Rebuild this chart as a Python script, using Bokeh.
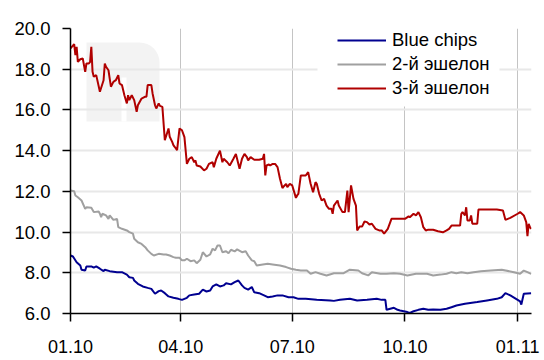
from bokeh.plotting import figure
from bokeh.models import Range1d, FixedTicker, NumeralTickFormatter, Legend, LegendItem, BoxAnnotation
from bokeh.embed import file_html
from bokeh.resources import INLINE

# x positions are calendar days counted from 01.01.2010
tick_days = [0, 90, 181, 273, 365]
tick_labels = ["01.10", "04.10", "07.10", "10.10", "01.11"]
y_ticks = [6, 8, 10, 12, 14, 16, 18, 20]

blue_days = [0, 2, 5, 8, 9, 12, 13, 17, 19, 21, 24, 27, 28, 32, 38, 42, 46, 48, 51, 52, 55, 59, 63, 66, 69, 72, 74,
             77, 80, 84, 88, 91, 95, 97, 101, 105, 108, 111, 114, 116, 119, 122, 125, 127, 131, 134, 137, 140, 142,
             145, 148, 150, 154, 158, 161, 165, 169, 173, 178, 182, 186, 192, 201, 212, 215, 220, 228, 234, 242, 250,
             254, 257, 258, 261, 264, 267, 269, 272, 275, 277, 280, 284, 288, 292, 296, 302, 307, 311, 315, 322, 332,
             340, 348, 352, 355, 359, 367, 368, 370, 376]
blue_vals = [8.85, 8.80, 8.52, 8.36, 8.15, 8.11, 8.31, 8.31, 8.25, 8.31, 8.20, 8.08, 8.15, 8.08, 8.03, 8.03, 7.91,
             7.78, 7.75, 7.62, 7.46, 7.33, 7.26, 7.21, 6.97, 7.10, 7.13, 7.00, 6.84, 6.77, 6.72, 6.67, 6.77, 6.89,
             6.93, 6.97, 7.17, 7.08, 7.13, 7.33, 7.43, 7.33, 7.38, 7.49, 7.43, 7.54, 7.62, 7.38, 7.26, 7.17, 7.30,
             7.04, 7.00, 6.89, 6.80, 6.84, 6.89, 6.89, 6.80, 6.80, 6.72, 6.72, 6.67, 6.64, 6.62, 6.67, 6.72, 6.64,
             6.67, 6.72, 6.67, 6.67, 6.18, 6.23, 6.28, 6.18, 6.15, 6.11, 6.07, 6.03, 6.11, 6.18, 6.23, 6.18, 6.20,
             6.18, 6.23, 6.31, 6.39, 6.48, 6.56, 6.64, 6.72, 6.80, 7.00, 6.89, 6.60, 6.44, 6.97, 7.00]

gray_days = [0, 3, 4, 6, 9, 12, 13, 17, 19, 23, 24, 25, 26, 29, 31, 32, 35, 38, 39, 42, 46, 48, 51, 52, 55, 58, 61,
             63, 66, 68, 72, 76, 78, 81, 84, 86, 89, 91, 93, 95, 98, 101, 103, 106, 108, 111, 114, 116, 118, 120,
             122, 124, 127, 129, 131, 134, 136, 140, 143, 145, 148, 150, 152, 157, 161, 165, 171, 176, 180, 184,
             188, 193, 196, 200, 204, 209, 215, 223, 228, 235, 238, 243, 246, 253, 258, 264, 269, 275, 282, 286,
             291, 296, 302, 307, 311, 315, 319, 324, 329, 335, 343, 352, 362, 367, 370, 373, 376]
gray_vals = [12.04, 12.01, 11.80, 11.71, 11.55, 11.14, 11.22, 11.19, 10.98, 11.01, 10.90, 10.73, 10.90, 10.82,
             10.65, 10.82, 10.60, 10.65, 10.24, 10.16, 10.08, 10.00, 9.92, 9.67, 9.50, 9.42, 9.26, 9.10, 8.93, 8.85,
             8.93, 8.90, 8.90, 8.85, 8.77, 8.74, 8.74, 8.61, 8.61, 8.69, 8.57, 8.61, 8.47, 8.64, 9.01, 8.80, 8.90,
             9.18, 9.10, 9.34, 9.34, 9.01, 9.06, 8.96, 9.13, 9.05, 9.15, 9.01, 9.06, 8.85, 8.61, 8.57, 8.36, 8.41,
             8.44, 8.41, 8.36, 8.28, 8.20, 8.15, 8.11, 8.11, 7.95, 8.03, 7.95, 7.87, 7.98, 7.98, 8.15, 8.11, 7.98,
             7.87, 8.03, 7.95, 7.95, 7.98, 7.95, 7.87, 7.95, 7.95, 7.95, 7.87, 7.91, 7.95, 8.03, 7.98, 8.03, 7.98,
             8.03, 8.07, 8.11, 8.15, 8.03, 7.95, 8.11, 8.03, 7.95]

red_days = [0, 3, 4, 5, 6, 8, 10, 12, 13, 15, 16, 17, 18, 19, 21, 24, 27, 28, 29, 31, 32, 33, 35, 37, 39, 40, 42,
            44, 46, 47, 48, 50, 52, 54, 55, 58, 61, 62, 63, 66, 67, 69, 70, 72, 73, 75, 77, 80, 81, 83, 84, 85, 87,
            89, 91, 93, 95, 97, 99, 101, 102, 103, 106, 109, 111, 113, 116, 117, 119, 122, 124, 125, 128, 130, 133,
            135, 138, 140, 142, 144, 145, 147, 150, 154, 157, 158, 159, 160, 162, 163, 165, 167, 169, 171, 173, 174,
            176, 177, 179, 181, 184, 185, 186, 188, 192, 194, 196, 198, 200, 201, 203, 205, 207, 209, 211, 213, 214,
            215, 218, 219, 222, 224, 226, 227, 229, 231, 233, 234, 236, 238, 240, 242, 244, 246, 249, 252, 254, 256,
            259, 262, 265, 271, 273, 276, 277, 280, 282, 284, 286, 288, 290, 292, 296, 300, 304, 307, 309, 311, 314,
            318, 319, 320, 322, 323, 324, 326, 327, 328, 332, 333, 348, 353, 355, 359, 365, 367, 370, 372, 373, 374,
            375, 376]
red_vals = [19.02, 19.23, 18.69, 19.10, 18.36, 18.49, 18.53, 17.87, 18.28, 18.28, 18.36, 19.10, 17.87, 17.63,
            17.71, 16.89, 17.46, 18.28, 18.12, 17.95, 17.54, 17.14, 17.38, 17.46, 17.71, 17.30, 17.22, 16.72, 16.32,
            16.72, 16.48, 16.72, 16.48, 15.91, 16.23, 16.56, 16.65, 16.65, 17.22, 17.22, 16.81, 16.23, 16.07, 16.32,
            16.20, 16.15, 14.51, 15.09, 14.68, 14.43, 14.27, 14.19, 14.02, 15.09, 15.00, 14.66, 13.35, 13.60, 13.68,
            13.43, 13.52, 13.27, 13.22, 13.03, 13.11, 13.35, 13.43, 13.19, 13.60, 14.00, 13.43, 13.60, 13.43, 13.27,
            13.60, 13.84, 13.11, 13.60, 13.84, 13.68, 13.52, 13.68, 13.55, 13.55, 13.60, 13.84, 12.78, 13.27, 13.32,
            13.27, 13.35, 13.35, 13.19, 12.62, 12.16, 12.24, 12.37, 12.21, 12.37, 12.29, 11.68, 11.80, 11.88, 12.78,
            12.78, 12.94, 12.37, 11.96, 12.45, 12.37, 11.88, 11.55, 11.63, 11.30, 11.14, 11.14, 10.90, 11.30, 11.55,
            11.30, 10.98, 10.98, 12.04, 10.98, 12.29, 11.63, 11.30, 10.08, 10.27, 10.27, 10.52, 10.49, 10.37, 10.41,
            10.16, 10.08, 10.08, 9.92, 10.16, 10.65, 10.65, 10.65, 10.65, 10.77, 10.73, 10.90, 10.82, 10.98, 10.73,
            10.24, 10.08, 10.12, 10.11, 10.04, 9.99, 10.08, 10.16, 10.32, 10.32, 10.32, 10.90, 10.98, 10.82, 11.22,
            10.57, 10.57, 10.82, 10.41, 10.41, 11.11, 11.11, 11.06, 10.60, 10.70, 10.90, 10.98, 10.82, 10.49, 9.80,
            10.41, 10.24, 10.16]

series_names = ["Blue chips", "2-й эшелон", "3-й эшелон"]
series_colors = ["#000090", "#a0a0a0", "#b00000"]

FONT = "Liberation Sans"

p = figure(width=544, height=360, output_backend="svg", toolbar_location=None,
           x_range=Range1d(0, 376.3), y_range=Range1d(6, 20),
           min_border_left=70, min_border_right=13, min_border_top=28, min_border_bottom=47)
p.outline_line_color = None
p.background_fill_color = "white"
p.border_fill_color = "white"

# x axis: quarter starts
p.xaxis.ticker = FixedTicker(ticks=tick_days)
p.xaxis.major_label_overrides = {d: lab for d, lab in zip(tick_days, tick_labels)}
p.xaxis.major_tick_out = 8
p.xaxis.major_tick_in = 0
p.xaxis.minor_tick_line_color = None
p.xaxis.axis_line_color = "black"
p.xaxis.axis_line_width = 1.5
p.xaxis.major_tick_line_color = "black"
p.xaxis.major_tick_line_width = 1.5
p.xaxis.major_label_standoff = 18
p.xaxis.major_label_text_font = FONT
p.xaxis.major_label_text_font_size = "18px"
p.xaxis.major_label_text_color = "black"

# y axis
p.yaxis.ticker = FixedTicker(ticks=y_ticks)
p.yaxis.formatter = NumeralTickFormatter(format="0.0")
p.yaxis.major_tick_out = 8
p.yaxis.major_tick_in = 0
p.yaxis.minor_tick_line_color = None
p.yaxis.axis_line_color = "black"
p.yaxis.axis_line_width = 1.5
p.yaxis.major_tick_line_color = "black"
p.yaxis.major_tick_line_width = 1.5
p.yaxis.major_label_standoff = 12
p.yaxis.major_label_text_font = FONT
p.yaxis.major_label_text_font_size = "18.5px"
p.yaxis.major_label_text_color = "black"

p.ygrid.grid_line_color = "#e8e8e8"
p.ygrid.grid_line_width = 2
p.xgrid.grid_line_color = "#c4c4c4"
p.xgrid.grid_line_width = 1

# faint logo mark behind the plot
logo = BoxAnnotation(left=16, right=89, bottom=192, top=271,
                     left_units="screen", right_units="screen", bottom_units="screen", top_units="screen",
                     fill_color="#f3f3f3", fill_alpha=1, line_color=None, border_radius=(0, 20, 0, 0),
                     level="image")
notch = BoxAnnotation(left=51, right=56, bottom=192, top=236,
                      left_units="screen", right_units="screen", bottom_units="screen", top_units="screen",
                      fill_color="white", fill_alpha=1, line_color=None, level="image")
p.add_layout(logo)
p.add_layout(notch)

# white panel behind the legend
legend_panel = BoxAnnotation(left=247, right=429, bottom=207, top=286,
                             left_units="screen", right_units="screen", bottom_units="screen", top_units="screen",
                             fill_color="white", fill_alpha=1, line_color=None)
p.add_layout(legend_panel)

items = []
for days, vals, name, color in [(blue_days, blue_vals, series_names[0], series_colors[0]),
                                (gray_days, gray_vals, series_names[1], series_colors[1]),
                                (red_days, red_vals, series_names[2], series_colors[2])]:
    r = p.line(days, vals, line_color=color, line_width=2)
    items.append(LegendItem(label=name, renderers=[r]))

legend = Legend(items=items, location=(267, 213), padding=0, margin=0, spacing=0,
                glyph_width=49, glyph_height=24, label_height=24, label_standoff=6,
                label_text_font=FONT, label_text_font_size="18.5px", label_text_color="black",
                background_fill_color="white", background_fill_alpha=1, border_line_color=None)
p.add_layout(legend, "center")

open("out.html", "w").write(file_html(p, INLINE))
